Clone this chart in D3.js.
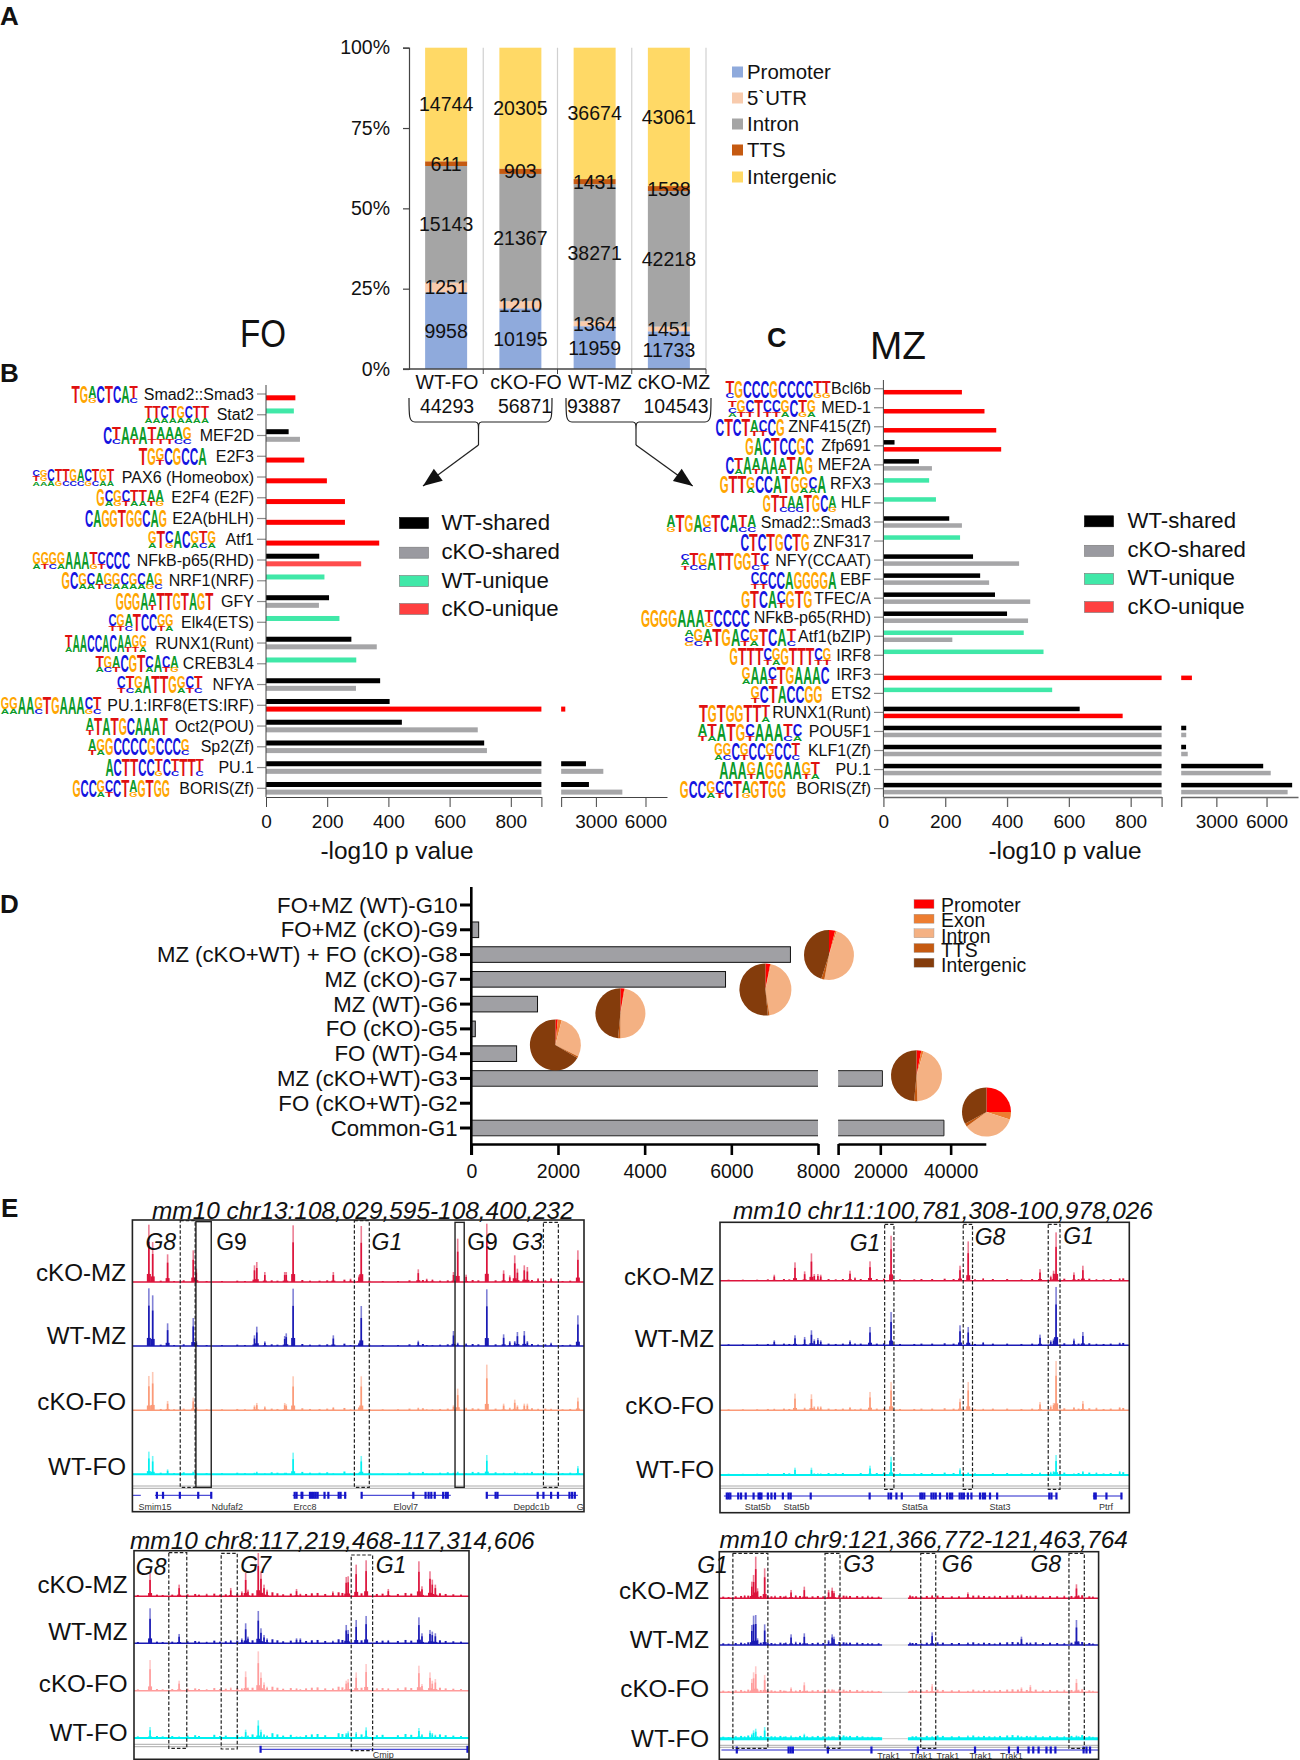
<!DOCTYPE html>
<html><head><meta charset="utf-8">
<script src="https://cdnjs.cloudflare.com/ajax/libs/d3/7.8.5/d3.min.js"></script>
<style>html,body{margin:0;padding:0;background:#fff}svg{display:block}text{font-family:"Liberation Sans",Arial,sans-serif;fill:#111}</style>
</head><body><svg id="c" width="1300" height="1760"></svg>
<script>
/* ---------- Panel A data ---------- */
const aSamples=["WT-FO","cKO-FO","WT-MZ","cKO-MZ"];
const aTotals=["44293","56871","93887","104543"];
const aFeatures=["Promoter","5`UTR","Intron","TTS","Intergenic"];
const aPromoter=[9958,10195,11959,11733];
const aUtr=[1251,1210,1364,1451];
const aIntron=[15143,21367,38271,42218];
const aTts=[611,903,1431,1538];
const aIntergenic=[14744,20305,36674,43061];
const aTicks=[0,25,50,75,100];
/* ---------- Panel B data ---------- */
const bNames=["Smad2::Smad3","Stat2","MEF2D","E2F3","PAX6 (Homeobox)","E2F4 (E2F)","E2A(bHLH)","Atf1","NFkB-p65(RHD)","NRF1(NRF)","GFY","Elk4(ETS)","RUNX1(Runt)","CREB3L4","NFYA","PU.1:IRF8(ETS:IRF)","Oct2(POU)","Sp2(Zf)","PU.1","BORIS(Zf)"];
const bWtShared=[null,null,74,null,null,null,null,null,174,null,206,null,279,null,373,404,444,713,2400,2580];
const bKoShared=[null,null,111,null,null,null,null,null,null,null,173,null,362,null,294,null,692,722,3450,4600];
const bWtUnique=[null,91,null,null,null,null,null,null,null,191,null,240,null,295,null,null,null,null,null,null];
const bKoUnique=[96,null,null,125,199,258,258,370,311,null,null,null,null,null,null,1150,null,null,null,null];
const bLogos=["T G AG C T C A TC","TA TA CA TA GA CA TA TA","C TC A AT A TT AT AT AC GC","T G GT C G C C A","CTA GGA CA TG TC GC AC CG TC GA TA","G CA GG CT TA TA AT AG","C A G G T G G C A G","GA T CG A C GA TC GA","GA GT GC GA A A A TG CT C C C","G C GA CA AT GC GA CA GA CA AG GC","G G G A AT T T G T A G T","CT GT AC T C C GT GA","TA A A C C A C A AT GT GA","TA GC AT C G T CA A CT AG","CT TC GA A T T G GA CT TC","GA GA A A GC T G A A A CG TC","AT T A T G C A A A T","AT GA G C C C C G C C C GC","A C T T C C TG C TC T T TC","G C C GA CT C T AG G T G G"];
/* ---------- Panel C data ---------- */
const cNames=["Bcl6b","MED-1","ZNF415(Zf)","Zfp691","MEF2A","RFX3","HLF","Smad2::Smad3","ZNF317","NFY(CCAAT)","EBF","TFEC/A","NFkB-p65(RHD)","Atf1(bZIP)","IRF8","IRF3","ETS2","RUNX1(Runt)","POU5F1","KLF1(Zf)","PU.1","BORIS(Zf)"];
const cWtShared=[null,null,null,36,115,null,null,213,null,290,313,361,400,null,null,null,null,635,1200,1190,5800,7530];
const cKoShared=[null,null,null,null,157,null,null,254,null,439,342,475,468,223,null,null,null,null,1200,1290,6250,7260];
const cWtUnique=[null,null,null,null,null,148,170,null,248,null,null,null,null,454,518,null,546,null,null,null,null,null];
const cKoUnique=[254,327,365,381,null,null,null,null,null,null,null,null,null,null,null,1540,null,774,null,null,null,null];
const cLogos=["TC G C C C G C C C C TG TG","TCA GT CT T CT CT GA C TG GA","C T C T AT CT C G","G A C T C C G C","C TA A AT A A AT T A G","G T T GA C C A T G GA CA A","G T TC AC AC T G C AG","AG T G A GC T C A TC AC","C T C T G C T G","CAT TC GC A T T G G TC CT","CT CT C C A G G G G A","G T C A CT G T G","G G G G A A A TG C C C C","ACG GC AT T G A CT GA T C A TC","G T T T CT GA G T T T CT GT","GA A A CT T G A A A C","GT C T A C C G G","T G T G G T T TA","AT TA A T G CT A A A TC CA","GA GC C GT C C GT C C TC","A A A GT A G G A A GT TA","G C C GA CT C T AG G T G G"];
const legendNames=["WT-shared","cKO-shared","WT-unique","cKO-unique"];
const xTicksLow=[0,200,400,600,800];
const xTicksHigh=[3000,6000];
/* ---------- Panel D data ---------- */
const dNames=["FO+MZ (WT)-G10","FO+MZ (cKO)-G9","MZ (cKO+WT) + FO (cKO)-G8","MZ (cKO)-G7","MZ (WT)-G6","FO (cKO)-G5","FO (WT)-G4","MZ (cKO+WT)-G3","FO (cKO+WT)-G2","Common-G1"];
const dCounts=[0,170,7364,5866,1528,92,1045,20600,0,38100];
const dTicksLow=[0,2000,4000,6000,8000];
const dTicksHigh=[20000,40000];
const pieFeatures=["Promoter","Exon","Intron","TTS","Intergenic"];
const pieG8=[4,1,48,2,45];
const pieG7=[3,0.5,44,1,51.5];
const pieG6=[2.5,0.5,47,1.5,48.5];
const pieG4=[1.5,2.5,28.5,1,66.5];
const pieG3=[3,1.5,45,2,48.5];
const pieG1=[25,5,35,2,33];
/* ---------- Panel E data: signal peaks (position along window, height per track) ---------- */
const trackNames=["cKO-MZ","WT-MZ","cKO-FO","WT-FO"];
const e1Bins=[389,399,438,505,513,665,671,692,744,748,766,871,916,938,944,1093,1115,1130,1185,1196,1218,1272,1316,1332,1345,1352,1370,1378,1406,1440,1510];
const e1CkoMz=[172,120,83,95,40,50,60,30,30,30,170,30,10,20,168,38,10,8,30,130,22,175,35,20,80,40,50,45,12,12,95];
const e1WtMz=[173,152,68,84,15,32,58,14,30,38,172,32,3,10,120,16,3,3,45,10,8,170,35,15,15,42,45,15,5,10,92];
const e1CkoFo=[103,115,28,38,10,15,22,12,22,18,102,10,3,10,102,8,3,3,15,65,8,137,20,8,32,15,20,20,5,5,38];
const e1WtFo=[68,55,15,8,5,5,8,3,5,5,65,3,2,5,55,3,2,2,5,8,3,58,5,3,8,5,5,5,2,3,25];
const e2Bins=[488,546,573,592,600,610,618,700,714,756,815,1008,1031,1073,1232,1262,1270,1277,1327,1352,1390,1455];
const e2CkoMz=[18,55,28,82,20,20,18,30,10,58,135,45,118,8,35,15,30,145,25,45,5,8];
const e2WtMz=[15,30,25,45,18,22,15,15,6,55,100,60,55,10,32,15,20,175,20,40,5,8];
const e2CkoFo=[5,50,8,48,12,12,12,10,3,55,85,35,85,5,25,15,22,148,10,28,8,10];
const e2WtFo=[3,22,3,22,5,5,5,3,3,28,55,20,8,3,8,10,12,60,5,12,8,12];
const e3Bins=[392,468,540,603,632,642,648,675,682,690,698,775,785,870,905,910,931,957,1015,1095,1103,1124,1130,1138];
const e3CkoMz=[70,35,8,25,15,70,20,130,75,35,20,22,8,15,58,60,95,108,22,105,30,75,50,35];
const e3WtMz=[105,28,5,10,15,60,20,97,45,25,15,15,15,8,55,40,70,82,10,78,30,40,35,30];
const e3CkoFo=[92,30,5,10,8,58,10,118,55,25,12,8,5,8,30,35,55,80,8,75,20,55,30,35];
const e3WtFo=[33,5,3,3,5,25,8,53,25,12,8,5,5,3,15,20,18,32,3,30,12,22,15,10];
const e4Bins=[405,425,430,436,441,461,470,490,520,535,548,572,580,640,650,655,690,750,780,868,900,930,1030,1060,1105,1180,1205,1300,1334,1340,1380];
const e4CkoMz=[10,50,70,125,30,90,8,8,8,25,10,35,6,25,32,22,8,8,6,10,6,10,18,10,8,12,8,8,42,10,6];
const e4WtMz=[6,60,88,90,20,62,8,5,8,32,10,35,6,15,32,25,8,6,6,8,5,38,8,6,5,25,8,6,75,12,5];
const e4CkoFo=[5,40,60,78,10,52,6,5,5,15,6,30,6,10,10,8,5,5,4,5,5,25,5,6,6,15,22,8,40,8,5];
const e4WtFo=[8,15,25,30,8,35,6,8,8,10,6,15,8,8,8,8,8,6,5,3,5,8,10,8,8,8,8,8,10,8,6];
/* low background signal read along each window */
const e1LowBins=[420,455,480,540,580,620,640,710,725,790,810,835,855,900,965,1000,1040,1070,1105,1150,1170,1235,1250,1295,1390,1425,1470,1490];
const e1Low=[4,3,5,3,3,4,3,5,4,6,4,4,5,7,4,3,3,5,6,4,5,6,5,5,6,5,3,4];
const e2LowBins=[360,400,440,470,515,530,640,660,680,730,775,795,840,880,900,930,965,990,1050,1100,1140,1180,1210,1300,1340,1370,1410,1430,1465];
const e2Low=[3,3,3,4,5,4,5,4,5,5,5,6,4,4,5,5,6,5,4,5,5,4,5,6,5,6,4,5,7];
const e3LowBins=[360,410,425,450,490,510,520,560,575,590,620,660,712,725,740,760,800,815,830,850,885,895,945,985,1000,1040,1060,1075,1150,1165,1185,1205];
const e3Low=[4,5,4,5,6,7,5,8,5,6,8,9,12,9,6,8,7,9,10,7,12,10,9,7,8,7,10,8,9,7,6,5];
const e4LowBins=[345,360,380,395,415,450,480,505,515,560,595,610,625,670,682,700,720,735,762,875,885,915,945,960,985,1005,1045,1075,1090,1120,1140,1155,1170,1195,1220,1240,1260,1280,1320,1350,1370];
const e4Low=[5,4,6,7,8,7,6,7,5,7,6,7,6,9,8,7,7,6,5,6,6,7,8,7,6,6,8,7,6,7,8,9,8,7,8,6,7,6,7,9,6];
const e1Genes=["Smim15","Ndufaf2","Ercc8","Elovl7","Depdc1b","G"];
const e2Genes=["Stat5b","Stat5b","Stat5a","Stat3","Ptrf"];
const e3Genes=["Cmip"];
const e4Genes=["Trak1","Trak1","Trak1","Trak1","Trak1"];
const e1Exons=[410,426,470,518,552,770,775,788,790,810,815,820,825,830,848,858,885,890,902,945,1080,1112,1120,1127,1136,1158,1165,1170,1272,1295,1300,1405,1420,1440,1458,1488,1495,1502];
const e2Exons=[355,360,365,387,395,408,430,444,448,452,470,480,490,512,528,534,590,755,808,815,830,845,897,902,908,928,934,940,952,972,980,986,1007,1013,1019,1030,1040,1064,1072,1078,1092,1112,1258,1264,1278,1384,1388,1418,1460];
const e3Exons=[681,1222];
const e4Exons=[383,528,534,540,638,760,890,1050,1145,1170,1200,1213,1228,1250,1262,1275,1354,1362,1372];

/* ---------- layout ---------- */
const svg=d3.select("#c");
const FONT='"Liberation Sans",Arial,sans-serif';
function txt(g,x,y,s,size,anchor,opts){opts=opts||{};
  const t=g.append("text").attr("x",x).attr("y",y).attr("font-size",size).attr("text-anchor",anchor||"start").attr("dominant-baseline","central").text(s);
  if(opts.italic)t.attr("font-style","italic"); if(opts.bold)t.attr("font-weight","bold"); if(opts.len)t.attr("textLength",opts.len).attr("lengthAdjust","spacingAndGlyphs");
  if(opts.fill)t.style("fill",opts.fill);return t;}
[["A",0,16,26],["B",0,373,26],["C",767,338,27],["D",0,904,26],["E",1,1208,26]].forEach(d=>txt(svg,d[1],d[2],d[0],d[3],"start",{bold:true}));
txt(svg,263,333,"FO",39,"middle",{len:46});
txt(svg,898,346,"MZ",38,"middle",{len:56});

/* ---- A ---- */
(function(){const g=svg.append("g");
 const y=d3.scaleLinear().domain([0,100]).range([369,47.7]);
 const x=d3.scaleBand().domain(aSamples).range([409,706]).paddingInner(0).paddingOuter(0);
 const series=[aPromoter,aUtr,aIntron,aTts,aIntergenic];
 const colors=["#8faadc","#f8cbad","#a5a5a5","#c55a11","#ffd966"];
 const catX=[447,526,600,674],totX=[447,525,594,676];
 d3.range(1,5).forEach(i=>{const px=409+i*(297/4);g.append("line").attr("x1",px).attr("x2",px).attr("y1",47.7).attr("y2",369).attr("stroke","#d0d0d0").attr("stroke-width",1.2);});
 aSamples.forEach((s,i)=>{const tot=d3.sum(series,a=>a[i]);let acc=0;const bw=42,bx=x(s)+x.bandwidth()/2-bw/2;
  series.forEach((a,k)=>{const p0=acc/tot*100,p1=(acc+a[i])/tot*100;acc+=a[i];
   g.append("rect").attr("x",bx).attr("width",bw).attr("y",y(p1)).attr("height",y(p0)-y(p1)).attr("fill",colors[k]);});
  acc=0;series.forEach((a,k)=>{const pm=(acc+a[i]/2)/tot*100;acc+=a[i];txt(g,bx+bw/2,y(pm),a[i],19.5,"middle");});
  txt(g,catX[i],382,s,19.5,"middle");
  txt(g,totX[i],406,aTotals[i],19.5,"middle");
 });
 const ax=g.append("g").attr("transform","translate(409,0)").call(d3.axisLeft(y).tickValues(aTicks).tickFormat(d=>d+"%").tickSize(6).tickPadding(13));
 ax.selectAll("text").attr("font-size",19.5).attr("font-family",FONT).style("fill","#111");ax.selectAll("path,line").attr("stroke","#444").attr("stroke-width",1.2);
 g.append("line").attr("x1",403).attr("x2",706).attr("y1",369).attr("y2",369).attr("stroke","#444").attr("stroke-width",1.5);
 d3.range(1,5).forEach(i=>{const px=409+i*(297/4);g.append("line").attr("x1",px).attr("x2",px).attr("y1",369).attr("y2",374).attr("stroke","#444");});
 [72,98,124,150,177].forEach((yy,i)=>{g.append("rect").attr("x",732).attr("y",yy-5.5).attr("width",11).attr("height",11).attr("fill",colors[i]);txt(g,747,yy,aFeatures[i],20.4,"start");});
 const br=(x0,xm,x1,ex,ey)=>{g.append("path").attr("fill","none").attr("stroke","#222").attr("stroke-width",1.2)
   .attr("d",`M${x0},398 C${x0},416 ${x0},422 ${x0+6},422 L${xm-3},422 C${xm},422 ${xm},425 ${xm},430 L${xm},445 L${xm},430 C${xm},425 ${xm},422 ${xm+3},422 L${x1-6},422 C${x1},422 ${x1},416 ${x1},398`);
   g.append("line").attr("x1",xm).attr("y1",445).attr("x2",ex).attr("y2",ey).attr("stroke","#222").attr("stroke-width",1.3);
   const a=Math.atan2(ey-445,ex-xm),L=19,W=7.5;const bx=ex-L*Math.cos(a),by=ey-L*Math.sin(a);
   g.append("path").attr("fill","#111").attr("d",`M${ex},${ey}L${bx-W*Math.sin(a)},${by+W*Math.cos(a)}L${bx+W*Math.sin(a)},${by-W*Math.cos(a)}Z`);};
 br(409,478.5,552,423,486);br(566,636,711,692.7,486);
})();

/* ---- sequence logo ---- */
const adv={A:.722,C:.722,G:.778,T:.611};const base={A:"#0a9a28",C:"#1414e0",G:"#ffa500",T:"#e01010"};
function logo(g,x0,x1,yc,s,H){const cols=s.split(" ");const w=(x1-x0)/cols.length;
 cols.forEach((c,i)=>{const shares=c.length==1?[1]:c.length==2?[.72,.28]:[.42,.33,.25];let yy=yc-H/2;
  c.split("").forEach((ch,k)=>{const h=H*shares[k];yy+=h;
   g.append("text").attr("transform",`translate(${x0+i*w},${yy}) scale(${w/(adv[ch]*10)},${h/7.16})`).attr("font-size",10).attr("font-weight","bold").style("fill",base[ch]).text(ch);});});}

/* ---- B & C broken bars ---- */
const bLogoSpans=[[165,318],[333,482],[238,442],[320,477],[75,263],[222,378],[196,385],[341,498],[75,300],[142,375],[267,492],[250,400],[150,338],[220,412],[270,467],[2,234],[198,387],[203,437],[243,470],[167,392]];
const cLogoSpans=[[182,436],[188,400],[158,325],[230,395],[182,393],[168,425],[272,450],[40,256],[218,385],[74,287],[243,450],[220,392],[-22,241],[83,352],[192,437],[221,433],[243,416],[118,290],[115,367],[155,362],[167,410],[72,328]];
function broken(o){const g=svg.append("g");
 const x1=d3.scaleLinear().domain([0,900]).range(o.low);const x2=d3.scaleLinear().domain([900,o.max]).range(o.high);
 const y=d3.scaleLinear().domain([0,o.names.length-1]).range(o.yr);
 const ser=[[o.ws,"#000",-1],[o.ks,"#a6a6a8",1],[o.wu,"#40e8a8",-1],[o.ku,"#ff0000",1]];
 ser.forEach(([a,col,side])=>a.forEach((v,i)=>{if(v==null)return;const yy=y(i)+side*o.off-o.h/2;
   const fill=(col=="#ff0000"&&o.names[i]==o.softRed)?"#ff4d4d":col;
   g.append("rect").attr("x",x1(0)).attr("y",yy).attr("height",o.h).attr("width",x1(Math.min(v,900))-x1(0)).attr("fill",fill);
   if(v>900)g.append("rect").attr("x",x2(900)).attr("y",yy).attr("height",o.h).attr("width",x2(v)-x2(900)).attr("fill",fill);}));
 o.names.forEach((n,i)=>{txt(g,o.labelX,y(i),n,16,"end");
   g.append("line").attr("x1",o.labelX+3).attr("x2",x1(0)).attr("y1",y(i)).attr("y2",y(i)).attr("stroke","#888").attr("stroke-width",1.2);
   logo(g,o.logoX(o.spans[i][0]),o.logoX(o.spans[i][1]),y(i)+o.lo,o.logos[i],17);});
 g.append("line").attr("x1",x1(0)).attr("x2",x1(0)).attr("y1",o.top).attr("y2",797).attr("stroke","#444").attr("stroke-width",1);
 const fmt=(a)=>{a.selectAll("text").attr("font-size",19).attr("font-family",FONT).attr("dy",null).attr("dominant-baseline","central").attr("y",24.7).style("fill","#111");a.selectAll("path,line").attr("stroke",o.axisColor).attr("stroke-width",o.axisW);};
 const a1=g.append("g").attr("transform","translate(0,797)").call(d3.axisBottom(x1).tickValues(xTicksLow.concat([900])).tickFormat(d=>d==900?"":d).tickSize(10).tickSizeOuter(0));fmt(a1);
 const a2=g.append("g").attr("transform","translate(0,797)").call(d3.axisBottom(x2).tickValues([900].concat(xTicksHigh)).tickFormat(d=>d==900?"":d).tickSize(10).tickSizeOuter(0));fmt(a2);
 txt(g,o.titleX,850,"-log10 p value",24.4,"middle");
 const lc=["#000","#9a9aa0","#40e8a8","#ff4040"];
 legendNames.forEach((n,i)=>{g.append("rect").attr("x",o.lx).attr("y",o.ly[i]-5.5).attr("width",29).attr("height",11).attr("fill",lc[i]).attr("stroke",i==0?"#000":"#777").attr("stroke-width",.6);
   txt(g,o.lx+o.lt,o.ly[i]-1,n,22.2,"start");});
}
broken({names:bNames,ws:bWtShared,ks:bKoShared,wu:bWtUnique,ku:bKoUnique,softRed:"NFkB-p65(RHD)",logos:bLogos,spans:bLogoSpans,logoX:v=>v/2.306,low:[266,541.4],high:[561.15,667],max:7300,yr:[394,788.3],off:3.8,h:5,labelX:254,lo:0,top:385,titleX:397,lx:399.5,ly:[523,552.7,581,609],lt:42,axisColor:"#444",axisW:1});
broken({names:cNames,ws:cWtShared,ks:cKoShared,wu:cWtUnique,ku:cKoUnique,softRed:"",logos:cLogos,spans:cLogoSpans,logoX:v=>650+v/2.412,low:[883.4,1161.6],high:[1181.2,1298],max:7880,yr:[388.7,788.6],off:3.5,h:4.5,labelX:871,lo:1,top:380,titleX:1065,lx:1084.5,ly:[521.3,550.8,578.9,607],lt:43,axisColor:"#666",axisW:1.3});

/* ---- D ---- */
(function(){const g=svg.append("g");
 const x1=d3.scaleLinear().domain([0,8000]).range([471.3,818]);const x2=d3.scaleLinear().domain([8000,50000]).range([838.1,985.8]);
 const y=d3.scaleLinear().domain([0,9]).range([905,1128]);
 dCounts.forEach((v,i)=>{if(!v)return;const yy=y(i)-7.8;
  g.append("rect").attr("x",x1(0)).attr("y",yy).attr("height",15.6).attr("width",x1(Math.min(v,8000))-x1(0)).attr("fill","#a0a0a4").attr("stroke",v>8000?"none":"#111").attr("stroke-width",1);
  if(v>8000){[yy,yy+15.6].forEach(e=>g.append("line").attr("x1",x1(0)).attr("x2",x1(8000)).attr("y1",e).attr("y2",e).attr("stroke","#222"));
   g.append("path").attr("fill","#a0a0a4").attr("stroke","#222").attr("d",`M${x2(8000)},${yy}H${x2(v)}V${yy+15.6}H${x2(8000)}`);}
 });
 dNames.forEach((n,i)=>{txt(g,457.7,y(i),n,22.2,"end");g.append("line").attr("x1",460).attr("x2",471).attr("y1",y(i)).attr("y2",y(i)).attr("stroke","#000").attr("stroke-width",3);});
 g.append("line").attr("x1",471.3).attr("x2",471.3).attr("y1",887).attr("y2",1155).attr("stroke","#000").attr("stroke-width",2.6);
 const fmt=a=>{a.selectAll("text").attr("font-size",19.5).attr("font-family",FONT).attr("dy",null).attr("dominant-baseline","central").attr("y",26.7).style("fill","#111");a.selectAll("path,line").attr("stroke","#000").attr("stroke-width",2.6);};
 fmt(g.append("g").attr("transform","translate(0,1144)").call(d3.axisBottom(x1).tickValues(dTicksLow).tickFormat(d=>d).tickSize(11).tickSizeOuter(0)));
 fmt(g.append("g").attr("transform","translate(0,1144)").call(d3.axisBottom(x2).tickValues([8000].concat(dTicksHigh)).tickFormat(d=>d==8000?"":d).tickSize(11).tickSizeOuter(0)));
 const col=d3.scaleOrdinal().domain(pieFeatures).range(["#ff0000","#ed7d31","#f4b183","#c55a11","#843c0c"]);
 const pie=d3.pie().sort(null);
 [[pieG8,829,955,25],[pieG7,765.4,989.5,26],[pieG6,620.4,1013.3,25],[pieG4,555.4,1045,25.5],[pieG3,916.5,1075.7,25.5],[pieG1,986.5,1112,24.5]].forEach(([d,cx,cy,r])=>{
  const arc=d3.arc().innerRadius(0).outerRadius(r);
  g.append("g").attr("transform",`translate(${cx},${cy})`).selectAll("path").data(pie(d)).join("path").attr("d",arc).attr("fill",(p,i)=>col(pieFeatures[i]));});
 [905,920,936,950,965].forEach((t,i)=>{const by=[904,918.7,933.3,948,962.7][i];
  g.append("rect").attr("x",914).attr("y",by-4.5).attr("width",20).attr("height",9).attr("fill",col(pieFeatures[i])).attr("stroke","#999").attr("stroke-width",.4);
  txt(g,941,t,pieFeatures[i],19.4,"start");});
})();

/* ---- E ---- */
function browser(o){const g=svg.append("g");
 const X=d3.scaleLinear().domain(o.bins).range(o.box);
 const H=d3.scaleLinear().domain([0,192]).range([0,64]);
 const Y=v=>o.origin+v/3;
 const cols=["#dc143c","#1a1ab4",o.foColor,"#00f0f0"];
 o.tracks.forEach((vals,k)=>{const b=o.base[k];
  o.lowPos.forEach((p,i)=>{if(o.gap&&p>o.gap[0]&&p<o.gap[1])return;const h=H(o.low[i])*(k==3?1.2:1);
   g.append("rect").attr("x",X(p)-1).attr("width",2).attr("y",b-h).attr("height",h).attr("fill",cols[k]);});
  vals.forEach((v,i)=>{const px=X(o.pos[i]);const h=H(v);
   g.append("rect").attr("x",px-.8).attr("width",1.6).attr("y",b-h).attr("height",h).attr("fill",cols[k]).attr("opacity",.55);
   g.append("rect").attr("x",px-.8).attr("width",1.6).attr("y",b-h*.7).attr("height",h*.7).attr("fill",cols[k]);
   g.append("rect").attr("x",px-2).attr("width",4).attr("y",b-h*.14).attr("height",h*.14).attr("fill",cols[k]);});
  if(o.gap){[[o.bins[0],o.gap[0]],[o.gap[1],o.bins[1]]].forEach(s=>g.append("line").attr("x1",X(s[0])).attr("x2",X(s[1])).attr("y1",b).attr("y2",b).attr("stroke",cols[k]).attr("stroke-width",k==3?3:1.6));
   g.append("line").attr("x1",X(o.gap[0])).attr("x2",X(o.gap[1])).attr("y1",b).attr("y2",b).attr("stroke","#ccc").attr("stroke-width",1);}
  else g.append("line").attr("x1",o.box[0]).attr("x2",o.box[1]).attr("y1",b).attr("y2",b).attr("stroke",cols[k]).attr("stroke-width",k==3?2:1.6);
  txt(g,o.labelX,o.labelY[k],trackNames[k],24.2,"end");
 });
 o.rule.forEach(r=>g.append("line").attr("x1",o.box[0]).attr("x2",o.box[1]).attr("y1",r).attr("y2",r).attr("stroke","#aaa").attr("stroke-width",1));
 o.geneLines.forEach(s=>g.append("line").attr("x1",X(s[0])).attr("x2",X(s[1])).attr("y1",o.geneY).attr("y2",o.geneY).attr("stroke","#2222cc").attr("stroke-width",1));
 o.exons.forEach(e=>g.append("rect").attr("x",X(e)-1.1).attr("width",2.2).attr("y",o.geneY-3.5).attr("height",7).attr("fill","#1515c8"));
 o.genes.forEach((n,i)=>txt(g,X(o.geneX[i]),o.geneTextY,n,9,"middle",{fill:"#333"}));
 g.append("rect").attr("x",o.box[0]).attr("y",o.ybox[0]).attr("width",o.box[1]-o.box[0]).attr("height",o.ybox[1]-o.ybox[0]).attr("fill","none").attr("stroke","#222").attr("stroke-width",1.6);
 o.marks.forEach(m=>g.append("rect").attr("x",X(m[0])).attr("width",X(m[1])-X(m[0])).attr("y",Y(m[2])).attr("height",Y(m[3])-Y(m[2])).attr("fill","none").attr("stroke","#222").attr("stroke-width",m[4]?1.4:1.2).attr("stroke-dasharray",m[4]?null:"3.5,2"));
 o.tags.forEach(t=>txt(g,X(t[1]),Y(t[2]),t[0],23,"middle",{italic:t[3]}));
 txt(g,o.titleX,o.titleY,o.title,24.4,"start",{italic:true});
}
browser({bins:[346,1526],box:[132.4,584],ybox:[1220,1511.7],origin:1190,pos:e1Bins,tracks:[e1CkoMz,e1WtMz,e1CkoFo,e1WtFo],lowPos:e1LowBins,low:e1Low,base:[1282,1346,1410.3,1474.3],foColor:"#fb9a78",
 labelX:126,labelY:[1272.7,1335,1401.7,1466],rule:[1486,1488.3],geneY:1495.3,geneTextY:1506.7,
 geneLines:[[346,368],[405,552],[765,905],[945,1178],[1272,1510]],exons:e1Exons,genes:e1Genes,geneX:[405,594,797,1060,1389,1516],
 marks:[[471,510,92,892],[512,552,95,892,true],[926,965,92,892],[1189,1213,97,892,true],[1420,1459,97,892]],
 tags:[["G8",420,155,true],["G9",605,155,false],["G1",1011,155,true],["G9",1261,155,false],["G3",1378,155,true]],
 title:"mm10 chr13:108,029,595-108,400,232",titleX:152,titleY:1210});
browser({bins:[336,1482],box:[720,1129.3],ybox:[1222.3,1512.7],origin:1190,pos:e2Bins,tracks:[e2CkoMz,e2WtMz,e2CkoFo,e2WtFo],lowPos:e2LowBins,low:e2Low,base:[1280.7,1345.3,1410.3,1475],foColor:"#fb9a78",
 labelX:714,labelY:[1276,1338.3,1405,1469.3],rule:[1486,1488.3],geneY:1496,geneTextY:1507.3,
 geneLines:[[347,1280],[1380,1462]],exons:e2Exons,genes:e2Genes,geneX:[442,550,881,1120,1417],
 marks:[[797,823,103,898],[1017,1043,103,898],[1255,1288,103,898]],
 tags:[["G1",742,158,true],["G8",1092,140,true],["G1",1340,138,true]],
 title:"mm10 chr11:100,781,308-100,978,026",titleX:733,titleY:1210.7});
browser({bins:[350,1226],box:[134,469],ybox:[1550.7,1759.3],origin:1510,pos:e3Bins,tracks:[e3CkoMz,e3WtMz,e3CkoFo,e3WtFo],lowPos:e3LowBins,low:e3Low,base:[1596.3,1643.3,1690.7,1738],foColor:"#ff9c9c",
 labelX:127.5,labelY:[1584,1631.7,1683.3,1732.7],rule:[1744.3,1746.7],geneY:1749.3,geneTextY:1755,
 geneLines:[[680,1222]],exons:e3Exons,genes:e3Genes,geneX:[1002],
 marks:[[441,488,128,715],[578,620,130,717],[918,974,135,722]],
 tags:[["G8",395,170,true],["G7",668,165,true],["G1",1022,165,true]],
 title:"mm10 chr8:117,219,468-117,314,606",titleX:130,titleY:1540});
browser({bins:[334,1396],box:[719.3,1098.6],ybox:[1551.7,1759.3],origin:1510,pos:e4Bins,tracks:[e4CkoMz,e4WtMz,e4CkoFo,e4WtFo],lowPos:e4LowBins,low:e4Low,base:[1598.3,1645,1692.3,1738.7],foColor:"#ff9c9c",gap:[790,862],
 labelX:709,labelY:[1590,1639.3,1688.3,1738.3],rule:[1745.3,1747.3],geneY:1750,geneTextY:1756,
 geneLines:[[340,1396]],exons:e4Exons,genes:e4Genes,geneX:[808,899,974,1066,1152],
 marks:[[372,470,130,715],[630,672,130,715],[898,940,130,715],[1313,1356,130,715]],
 tags:[["G1",315,165,true],["G3",724,163,true],["G6",1000,161,true],["G8",1248,163,true]],
 title:"mm10 chr9:121,366,772-121,463,764",titleX:719.6,titleY:1539});
</script></body></html>
